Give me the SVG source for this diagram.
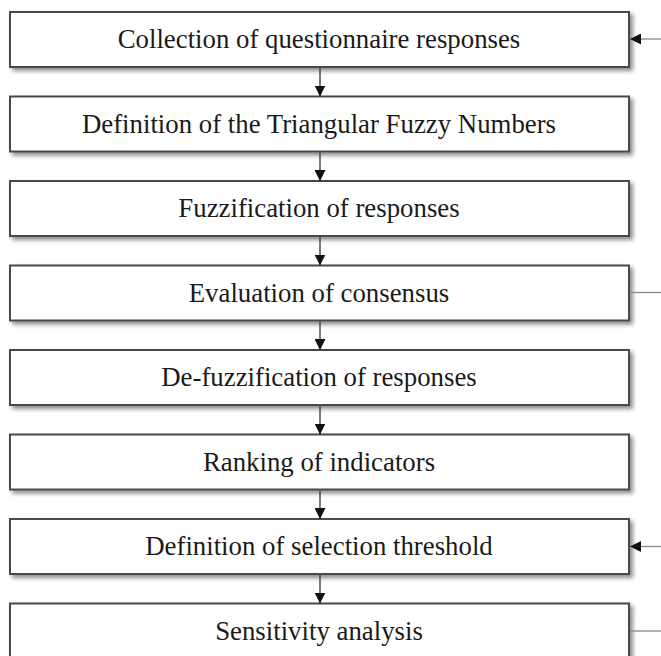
<svg xmlns="http://www.w3.org/2000/svg" width="661" height="656" viewBox="0 0 661 656">
<defs>
<filter id="sh" x="-5%" y="-30%" width="110%" height="160%">
<feDropShadow dx="3" dy="3" stdDeviation="2.2" flood-color="#000" flood-opacity="0.45"/>
</filter>
<marker id="ah" markerWidth="11" markerHeight="11" refX="11" refY="5.5" orient="auto" markerUnits="userSpaceOnUse">
<path d="M0,0 L11,5.5 L0,11 Z" fill="#111"/>
</marker>
</defs>
<style>
.box rect{fill:#fff;stroke:#4a4a4a;stroke-width:2;filter:url(#sh)}
.box text{font-family:"Liberation Serif","Times New Roman",serif;font-size:26.8px;fill:#1a1a1a;text-anchor:middle}
.v{stroke:#333;stroke-width:1.3;fill:none}
.r{stroke:#888;stroke-width:1.3;fill:none}
</style>
<rect width="661" height="656" fill="#fff"/>
<g id="n1" class="box"><rect x="10" y="12" width="619" height="55"/><text x="319" y="48">Collection of questionnaire responses</text></g>
<g id="n2" class="box"><rect x="10" y="96.5" width="619" height="55"/><text x="319" y="132.5">Definition of the Triangular Fuzzy Numbers</text></g>
<g id="n3" class="box"><rect x="10" y="181" width="619" height="55"/><text x="319" y="217">Fuzzification of responses</text></g>
<g id="n4" class="box"><rect x="10" y="265.5" width="619" height="55"/><text x="319" y="301.5">Evaluation of consensus</text></g>
<g id="n5" class="box"><rect x="10" y="350" width="619" height="55"/><text x="319" y="386">De-fuzzification of responses</text></g>
<g id="n6" class="box"><rect x="10" y="434.5" width="619" height="55"/><text x="319" y="470.5">Ranking of indicators</text></g>
<g id="n7" class="box"><rect x="10" y="519" width="619" height="55"/><text x="319" y="555">Definition of selection threshold</text></g>
<g id="n8" class="box"><rect x="10" y="603.5" width="619" height="55"/><text x="319" y="640">Sensitivity analysis</text></g>
<g id="connectors">
<line class="v" x1="320" y1="68" x2="320" y2="96.5" marker-end="url(#ah)"/>
<line class="v" x1="320" y1="152.5" x2="320" y2="181" marker-end="url(#ah)"/>
<line class="v" x1="320" y1="237" x2="320" y2="265.5" marker-end="url(#ah)"/>
<line class="v" x1="320" y1="321.5" x2="320" y2="350" marker-end="url(#ah)"/>
<line class="v" x1="320" y1="406" x2="320" y2="434.5" marker-end="url(#ah)"/>
<line class="v" x1="320" y1="490.5" x2="320" y2="519" marker-end="url(#ah)"/>
<line class="v" x1="320" y1="575" x2="320" y2="603.5" marker-end="url(#ah)"/>
<line class="r" x1="661" y1="39" x2="630" y2="39" marker-end="url(#ah)"/>
<line class="r" x1="630" y1="292.5" x2="661" y2="292.5"/>
<line class="r" x1="661" y1="546.5" x2="630" y2="546.5" marker-end="url(#ah)"/>
<line class="r" x1="630" y1="631" x2="661" y2="631"/>
</g>
</svg>
